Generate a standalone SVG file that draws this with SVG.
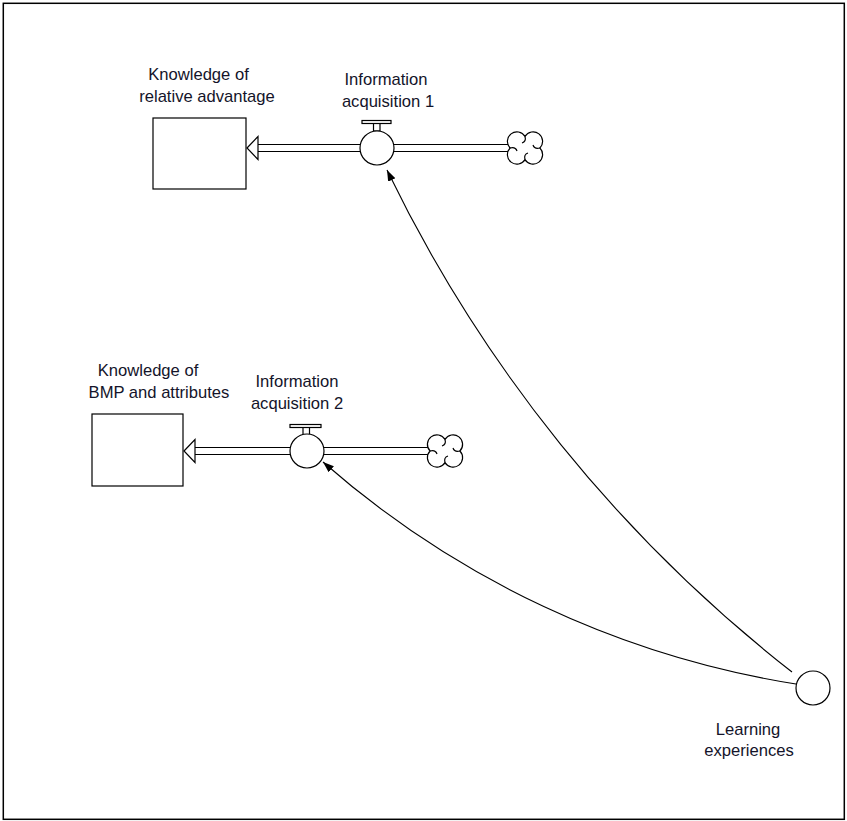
<svg xmlns="http://www.w3.org/2000/svg" xmlns:xlink="http://www.w3.org/1999/xlink" width="847" height="821" viewBox="0 0 847 821">
<style>
.ln{fill:none;stroke:#000;stroke-width:1.2}
.shape{fill:#fff;stroke:#000;stroke-width:1.2}
.lbl{font-family:"Liberation Sans",Arial,sans-serif;font-size:16.6px;fill:#14142a;text-anchor:middle}
.link{fill:none;stroke:#000;stroke-width:1.1}
</style>
<defs>
<marker id="ah" markerUnits="userSpaceOnUse" markerWidth="12" markerHeight="9" refX="11" refY="4" orient="auto">
<path d="M0,0 L11,4 L0,8 Z" fill="#000"/>
</marker>
<g id="cloud">
<path class="shape" d="M0,-11.6 A9.5 9.5 0 1 1 14.9,0 A9.5 9.5 0 1 1 0,11.6 A9.5 9.5 0 1 1 -14.9,0 A9.5 9.5 0 1 1 0,-11.6 Z"/>
<path class="ln" d="M0,-11.6 C1,-8 0,-6 -3,-5"/>
<path class="ln" d="M14.9,0 C11,1 9,0 8,-3"/>
<path class="ln" d="M0,11.6 C-1,8 0,6 3,5"/>
<path class="ln" d="M-14.9,0 C-11,-1 -9,0 -8,3"/>
</g>
</defs>
<rect x="3.3" y="3.3" width="841" height="816" fill="#fff" stroke="#000" stroke-width="1.5"/>

<g id="connectors">
<g id="flow1-pipe">
<line class="ln" x1="258" y1="144.5" x2="512" y2="144.5"/>
<line class="ln" x1="258" y1="151.5" x2="512" y2="151.5"/>
<path class="shape" d="M247,148 L258,136.5 L258,159.5 Z"/>
</g>
<g id="flow2-pipe">
<line class="ln" x1="195" y1="447.5" x2="432" y2="447.5"/>
<line class="ln" x1="195" y1="454.5" x2="432" y2="454.5"/>
<path class="shape" d="M184,451 L195,439.5 L195,462.5 Z"/>
</g>
<path id="link1" class="link" d="M792,672 A1420 1420 0 0 1 387,170" marker-end="url(#ah)"/>
<path id="link2" class="link" d="M796,684 A941 941 0 0 1 323,462" marker-end="url(#ah)"/>
</g>

<g id="stock1">
<rect class="shape" x="153" y="118" width="93" height="71"/>
<text class="lbl" x="198.5" y="80">Knowledge of</text>
<text class="lbl" x="207" y="102">relative advantage</text>
</g>

<g id="stock2">
<rect class="shape" x="92" y="414" width="91" height="72"/>
<text class="lbl" x="148" y="376">Knowledge of</text>
<text class="lbl" x="159" y="398">BMP and attributes</text>
</g>

<g id="valve1">
<rect class="shape" x="373.5" y="123" width="6.5" height="8"/>
<rect class="shape" x="362" y="120.5" width="29" height="3"/>
<circle class="shape" cx="377" cy="148" r="17"/>
<text class="lbl" x="386" y="85">Information</text>
<text class="lbl" x="388" y="107">acquisition 1</text>
</g>

<g id="valve2">
<rect class="shape" x="303" y="427" width="6.5" height="8"/>
<rect class="shape" x="290" y="424.5" width="31" height="3"/>
<circle class="shape" cx="307" cy="451" r="17"/>
<text class="lbl" x="297" y="387">Information</text>
<text class="lbl" x="297" y="409">acquisition 2</text>
</g>

<g id="source1">
<use xlink:href="#cloud" href="#cloud" transform="translate(525,148)"/>
</g>
<g id="source2">
<use xlink:href="#cloud" href="#cloud" transform="translate(445,451)"/>
</g>

<g id="learning">
<circle class="shape" cx="813" cy="688" r="17"/>
<text class="lbl" x="748" y="735">Learning</text>
<text class="lbl" x="749" y="756">experiences</text>
</g>
</svg>
